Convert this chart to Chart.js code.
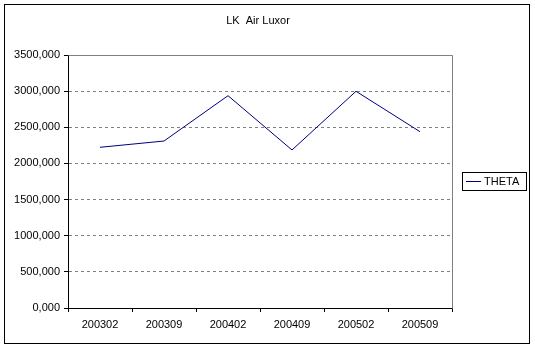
<!DOCTYPE html>
<html>
<head>
<meta charset="utf-8">
<title>LK Air Luxor</title>
<script src="https://cdn.jsdelivr.net/npm/chart.js@4/dist/chart.umd.min.js"></script>
<style>
  html, body { margin: 0; padding: 0; background: #fff; }
  canvas { display: block; }
</style>
</head>
<body>
<canvas id="lineChart" width="535" height="348"></canvas>
<script>
const periods = ['200302', '200309', '200402', '200409', '200502', '200509'];
const thetaValues = [2223, 2310, 2937, 2186, 2998, 2439];
const seriesName = 'THETA';
const chartTitle = 'LK  Air Luxor';
const yMin = 0;
const yMax = 3500;
const yStep = 500;

const FONT = '"Liberation Sans", Arial, sans-serif';

// Frame, plot border, title and legend box in the old spreadsheet style
const framePlugin = {
  id: 'frame',
  beforeDraw(chart) {
    const ctx = chart.ctx;
    ctx.save();
    ctx.fillStyle = '#fff';
    ctx.fillRect(0, 0, chart.width, chart.height);
    ctx.restore();
  },
  beforeDatasetsDraw(chart) {
    const { ctx, chartArea: a } = chart;
    ctx.save();
    ctx.strokeStyle = '#808080';
    ctx.lineWidth = 1;
    ctx.beginPath();
    ctx.moveTo(Math.round(a.left) + 0.5, Math.round(a.top) + 0.5);
    ctx.lineTo(Math.round(a.right) + 0.5, Math.round(a.top) + 0.5);
    ctx.lineTo(Math.round(a.right) + 0.5, Math.round(a.bottom) + 0.5);
    ctx.stroke();
    ctx.restore();
  },
  afterDraw(chart) {
    const ctx = chart.ctx;
    ctx.save();
    // outer border
    ctx.strokeStyle = '#000';
    ctx.lineWidth = 1;
    ctx.strokeRect(4.5, 4.5, 525, 339);

    // title
    ctx.fillStyle = '#000';
    ctx.font = '11px ' + FONT;
    ctx.textAlign = 'center';
    ctx.textBaseline = 'middle';
    ctx.fillText(chartTitle, 258, 21);

    // legend
    const ds = chart.data.datasets[0];
    ctx.strokeStyle = '#000';
    ctx.strokeRect(462.5, 172.5, 64, 18);
    ctx.strokeStyle = ds.borderColor;
    ctx.beginPath();
    ctx.moveTo(466, 181.5);
    ctx.lineTo(481, 181.5);
    ctx.stroke();
    ctx.textAlign = 'left';
    ctx.fillText(ds.label, 484, 182);
    ctx.restore();
  }
};

new Chart(document.getElementById('lineChart').getContext('2d'), {
  type: 'line',
  data: {
    labels: periods,
    datasets: [{
      label: seriesName,
      data: thetaValues,
      borderColor: '#000080',
      borderWidth: 1,
      pointRadius: 0,
      tension: 0,
      fill: false
    }]
  },
  options: {
    responsive: false,
    animation: false,
    devicePixelRatio: 1,
    layout: { padding: { left: 0, top: 55, right: 83, bottom: 0 } },
    plugins: {
      legend: { display: false },
      title: { display: false },
      tooltip: { enabled: false }
    },
    scales: {
      x: {
        offset: true,
        afterFit: s => { s.height = 40; },
        grid: {
          offset: true,
          drawOnChartArea: false,
          drawTicks: true,
          tickLength: 4,
          color: '#000',
          tickColor: '#000'
        },
        border: { display: true, color: '#000', width: 1 },
        ticks: {
          color: '#000',
          font: { family: FONT, size: 11 },
          padding: 6,
          maxRotation: 0,
          autoSkip: false
        }
      },
      y: {
        min: yMin,
        max: yMax,
        afterFit: s => { s.width = 68; },
        grid: {
          drawTicks: true,
          tickLength: 4,
          color: c => (c.tick && (c.tick.value === yMax || c.tick.value === yMin)) ? 'rgba(0,0,0,0)' : '#808080',
          tickColor: '#000',
          tickBorderDash: []
        },
        border: { display: true, color: '#000', width: 1, dash: [3, 3] },
        ticks: {
          stepSize: yStep,
          color: '#000',
          font: { family: FONT, size: 11 },
          padding: 4,
          callback: v => v.toFixed(3).replace('.', ',')
        }
      }
    }
  },
  plugins: [framePlugin]
});
</script>
</body>
</html>
